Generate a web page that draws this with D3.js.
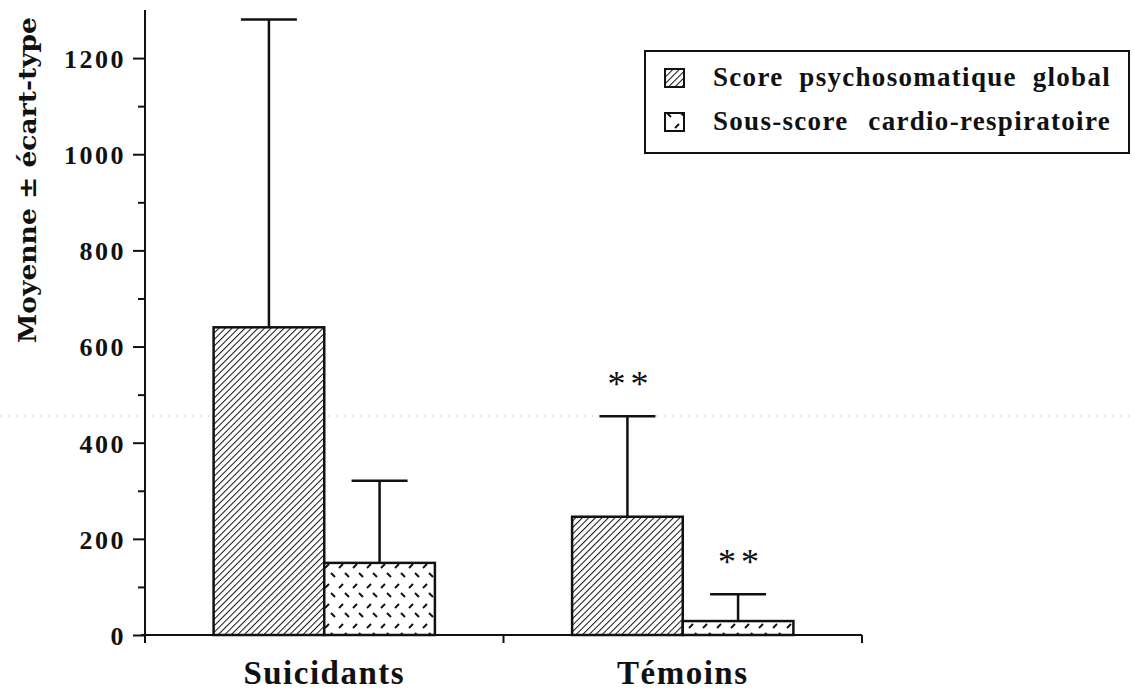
<!DOCTYPE html>
<html>
<head>
<meta charset="utf-8">
<script src="https://cdn.jsdelivr.net/npm/d3@7"></script>
<style>
  body { margin: 0; background: #fff; }
  svg { display: block; }
  text { font-family: "Liberation Serif", "Times New Roman", serif; font-weight: bold; fill: #111; }
  .axis path, .axis line { stroke: #111; stroke-width: 2; }
</style>
</head>
<body>
<div id="chart"></div>
<script>
// donnees
const categories = ["Suicidants", "Témoins"];
const series = ["Score psychosomatique global", "Sous-score cardio-respiratoire"];
const meanGlobal = [640, 246];
const sdGlobal = [640, 209];
const meanCardio = [150, 29];
const sdCardio = [171, 56];
const starsGlobal = ["", "**"];
const starsCardio = ["", "**"];
const yTicks = [0, 200, 400, 600, 800, 1000, 1200];
const yMinor = [100, 300, 500, 700, 900, 1100];

const rows = [];
categories.forEach((c, i) => {
  rows.push({ cat: c, s: series[0], mean: meanGlobal[i], sd: sdGlobal[i], stars: starsGlobal[i] });
  rows.push({ cat: c, s: series[1], mean: meanCardio[i], sd: sdCardio[i], stars: starsCardio[i] });
});

const W = 1135, H = 690;
const svg = d3.select("#chart").append("svg")
  .attr("width", W)
  .attr("height", H);

// motifs de remplissage
const defs = svg.append("defs");
const hatch = defs.append("pattern")
  .attr("id", "hatch")
  .attr("patternUnits", "userSpaceOnUse")
  .attr("width", 4.6).attr("height", 4.6)
  .attr("patternTransform", "rotate(45)");
hatch.append("rect").attr("width", 4.6).attr("height", 4.6).attr("fill", "#fff");
hatch.append("line")
  .attr("x1", 0).attr("y1", 0).attr("x2", 0).attr("y2", 4.6)
  .attr("stroke", "#111").attr("stroke-width", 2);

const dash = defs.append("pattern")
  .attr("id", "dash")
  .attr("patternUnits", "userSpaceOnUse")
  .attr("width", 14).attr("height", 20);
dash.append("rect").attr("width", 14).attr("height", 20).attr("fill", "#fff");
dash.append("line")
  .attr("x1", 3).attr("y1", 8).attr("x2", 7).attr("y2", 4)
  .attr("stroke", "#111").attr("stroke-width", 2);
dash.append("line")
  .attr("x1", 9).attr("y1", 13).attr("x2", 13).attr("y2", 17)
  .attr("stroke", "#111").attr("stroke-width", 2);

const fills = { [series[0]]: "url(#hatch)", [series[1]]: "url(#dash)" };

// echelles
const x0 = d3.scaleBand().domain(categories).range([145, 862]).padding(0);
const x1 = d3.scaleBand().domain(series).range([0, x0.bandwidth()])
  .paddingInner(0).paddingOuter(0.62);
const y = d3.scaleLinear().domain([0, 1300]).range([635, 10]);

// trait pointille du scan
svg.append("line")
  .attr("x1", 0).attr("x2", W).attr("y1", 416).attr("y2", 416)
  .attr("stroke", "#bbb").attr("stroke-width", 1)
  .attr("stroke-dasharray", "1,7");

// barres
svg.append("g").selectAll("rect")
  .data(rows)
  .enter().append("rect")
  .attr("x", d => x0(d.cat) + x1(d.s))
  .attr("y", d => y(d.mean))
  .attr("width", x1.bandwidth())
  .attr("height", d => y(0) - y(d.mean))
  .attr("fill", d => fills[d.s])
  .attr("stroke", "#111")
  .attr("stroke-width", 2.5);

// ecart-type
const err = svg.append("g").attr("stroke", "#111").attr("stroke-width", 2.5);
rows.forEach(d => {
  const cx = x0(d.cat) + x1(d.s) + x1.bandwidth() / 2;
  err.append("line")
    .attr("x1", cx).attr("x2", cx)
    .attr("y1", y(d.mean)).attr("y2", y(d.mean + d.sd));
  err.append("line")
    .attr("x1", cx - 28).attr("x2", cx + 28)
    .attr("y1", y(d.mean + d.sd)).attr("y2", y(d.mean + d.sd));
  if (d.stars) {
    svg.append("text")
      .attr("x", cx + 3)
      .attr("y", y(d.mean + d.sd) - 20)
      .attr("text-anchor", "middle")
      .style("font-weight", "normal")
      .style("font-size", "36px")
      .style("letter-spacing", "5px")
      .text(d.stars);
  }
});

// axe y
const yAxis = svg.append("g")
  .attr("class", "axis")
  .attr("transform", "translate(145,0)")
  .call(d3.axisLeft(y).tickValues(yTicks).tickFormat(d3.format("d"))
    .tickSize(12).tickPadding(7).tickSizeOuter(0));
yAxis.select(".domain").attr("d", `M0,${y(1300)}V641`);
yAxis.selectAll("text")
  .style("font-size", "26px")
  .style("letter-spacing", "2.5px")
  .attr("dy", "0.36em");

svg.append("g")
  .attr("class", "axis")
  .attr("transform", "translate(145,0)")
  .call(d3.axisLeft(y).tickValues(yMinor).tickSize(7).tickFormat(""))
  .select(".domain").remove();

// axe x
const xAxis = svg.append("g")
  .attr("class", "axis")
  .attr("transform", `translate(0,${y(0)})`)
  .call(d3.axisBottom(x0).tickSize(0).tickPadding(26));
xAxis.select(".domain").attr("d", "M141,0H862");
xAxis.selectAll("text")
  .style("font-size", "33px")
  .style("letter-spacing", "1.5px");
const edges = categories.map(c => x0(c)).concat([x0.range()[1]]);
xAxis.selectAll(".edge")
  .data(edges)
  .enter().append("line")
  .attr("class", "edge")
  .attr("x1", d => d).attr("x2", d => d)
  .attr("y1", 0).attr("y2", 8);

// titre axe y
svg.append("text")
  .attr("transform", "translate(36,180) rotate(-90)")
  .attr("text-anchor", "middle")
  .attr("textLength", 326)
  .attr("lengthAdjust", "spacingAndGlyphs")
  .style("font-family", "'DejaVu Serif', serif")
  .style("font-size", "25px")
  .text("Moyenne ± écart-type");

// legende
const leg = svg.append("g");
leg.append("rect")
  .attr("x", 645).attr("y", 51)
  .attr("width", 484).attr("height", 102)
  .attr("fill", "#fff")
  .attr("stroke", "#111")
  .attr("stroke-width", 2);
series.forEach((s, i) => {
  const ly = 78 + i * 44;
  leg.append("rect")
    .attr("x", 665).attr("y", ly - 9)
    .attr("width", 19).attr("height", 18)
    .attr("fill", fills[s])
    .attr("stroke", "#111")
    .attr("stroke-width", 2);
  const t = leg.append("text")
    .attr("x", 713).attr("y", ly + 8)
    .style("font-size", "27px")
    .style("letter-spacing", "1.3px")
    .text(s);
  // espacement des mots pour remplir la largeur
  const words = s.split(" ").length - 1;
  const w = t.node().getComputedTextLength();
  t.style("word-spacing", Math.max(0, (398 - w) / words) + "px");
});
</script>
</body>
</html>
